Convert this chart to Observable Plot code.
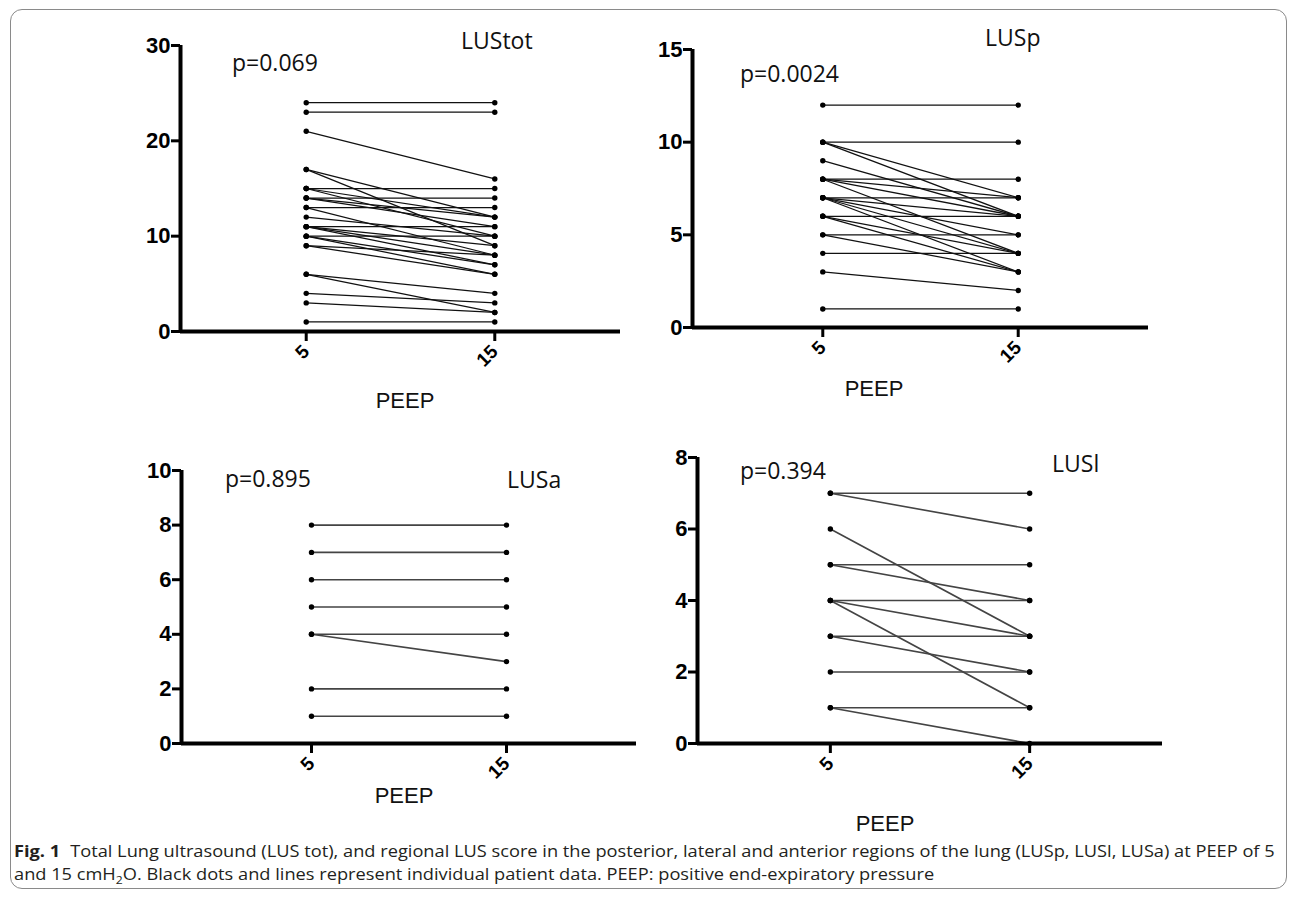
<!DOCTYPE html>
<html><head><meta charset="utf-8">
<script src="https://cdn.jsdelivr.net/npm/d3@7"></script>
<script src="https://cdn.jsdelivr.net/npm/@observablehq/plot@0.6"></script>
<style>
body{margin:0;background:#fff;width:1295px;height:898px;overflow:hidden;position:relative;font-family:"Liberation Sans",Arial,sans-serif}
#frame{position:absolute;left:10px;top:9px;width:1277px;height:880px;border:1px solid #8a8a8a;border-radius:12px;box-sizing:border-box}
svg.plot{position:absolute}
</style></head><body>
<div id="frame"></div>
<script>
// ---- data ----
const peepLevels = ["5", "15"];
const lusTotPeep5  = [24,23,21,17,17,15,15,15,14,14,14,13,13,12,11,11,11,11,10,10,10,9,9,6,6,4,3,1];
const lusTotPeep15 = [24,23,16,12,9,15,12,10,14,12,11,13,8,10,11,9,8,7,10,7,6,8,6,4,2,3,2,1];
const lusPPeep5    = [12,10,10,10,9,8,8,8,8,7,7,7,7,7,6,6,6,5,5,4,3,1];
const lusPPeep15   = [12,10,7,6,6,8,7,6,4,7,6,5,4,3,6,4,3,5,3,4,2,1];
const lusAPeep5    = [8,7,6,5,4,4,2,1];
const lusAPeep15   = [8,7,6,5,4,3,2,1];
const lusLPeep5    = [7,7,6,5,5,4,4,4,3,3,2,1,1];
const lusLPeep15   = [7,6,3,5,4,4,3,1,3,2,2,1,0];
const yTicksTot = [0,10,20,30];
const yTicksP   = [0,5,10,15];
const yTicksA   = [0,2,4,6,8,10];
const yTicksL   = [0,2,4,6,8];
const panelNames = ["LUStot","LUSp","LUSa","LUSl"];
const pValues = ["p=0.069","p=0.0024","p=0.895","p=0.394"];
const xTitle = "PEEP";

// ---- layout ----
const panels = [
  {pre: lusTotPeep5, post: lusTotPeep15, yMax: 30, ticks: yTicksTot, x0: 180, x1: 620, yTop: 45, yBot: 331, stroke: "#111", sw: 1.25,
   name: [461, 49], p: [232, 71], peep: [405, 408]},
  {pre: lusPPeep5, post: lusPPeep15, yMax: 15, ticks: yTicksP, x0: 692, x1: 1148, yTop: 49, yBot: 327, stroke: "#111", sw: 1.25,
   name: [985, 46], p: [740, 82], peep: [874, 396]},
  {pre: lusAPeep5, post: lusAPeep15, yMax: 10, ticks: yTicksA, x0: 181, x1: 636, yTop: 470, yBot: 743, stroke: "#444", sw: 1.6,
   name: [507, 488], p: [225, 487], peep: [404, 803]},
  {pre: lusLPeep5, post: lusLPeep15, yMax: 8, ticks: yTicksL, x0: 697, x1: 1162, yTop: 457, yBot: 743, stroke: "#444", sw: 1.6,
   name: [1052, 472], p: [740, 479], peep: [885, 831]}
];

const pad = 2/3;
const ML = 70, MR = 12, MT = 20, MB = 60;
panels.forEach(pn => {
  const rows = pn.pre.flatMap((v, i) => [{id: i, x: 0, v}, {id: i, x: 1, v: pn.post[i]}]);
  const chart = Plot.plot({
    width: pn.x1 - pn.x0 + ML + MR,
    height: pn.yBot - pn.yTop + MT + MB,
    marginLeft: ML, marginRight: MR, marginTop: MT, marginBottom: MB,
    x: {domain: [-pad, 1 + pad]},
    y: {domain: [0, pn.yMax]},
    style: {overflow: "visible", background: "transparent", fontFamily: "'Liberation Sans', Arial, sans-serif", color: "#000"},
    marks: [
      Plot.line(rows, {x: "x", y: "v", z: "id", stroke: pn.stroke, strokeWidth: pn.sw}),
      Plot.dot(rows, {x: "x", y: "v", r: 2.7, fill: "#000", stroke: "none"}),
      Plot.axisY({ticks: pn.ticks, tickSize: 9, tickPadding: 1, strokeWidth: 3, fontSize: 22, fontWeight: "bold", label: null, fill: "#000", stroke: "#000"}),
      Plot.axisX({ticks: [0, 1], tickFormat: i => peepLevels[i], tickRotate: -45, tickSize: 10, tickPadding: 7, strokeWidth: 3, fontSize: 19, fontWeight: "bold", label: null, fill: "#000", stroke: "#000"}),
      Plot.ruleX([-pad], {strokeWidth: 4, stroke: "#000"}),
      Plot.ruleY([0], {strokeWidth: 4, stroke: "#000"})
    ]
  });
  chart.classList.add("plot");
  chart.style.left = (pn.x0 - ML) + "px";
  chart.style.top = (pn.yTop - MT) + "px";
  document.body.appendChild(chart);
});

// ---- text overlay ----
const ov = d3.select("body").append("svg")
  .attr("width", 1295).attr("height", 898)
  .style("position", "absolute").style("left", 0).style("top", 0).style("pointer-events", "none");

panels.forEach((pn, k) => {
  ov.append("text").attr("x", pn.p[0]).attr("y", pn.p[1])
    .attr("font-family", "'Open Sans', sans-serif").attr("font-size", 23).attr("fill", "#111").text(pValues[k]);
  ov.append("text").attr("x", pn.name[0]).attr("y", pn.name[1])
    .attr("font-family", "'Open Sans', sans-serif").attr("font-size", 23).attr("fill", "#111").text(panelNames[k]);
  ov.append("text").attr("x", pn.peep[0]).attr("y", pn.peep[1]).attr("text-anchor", "middle")
    .attr("font-family", "'Liberation Sans', Arial, sans-serif").attr("font-size", 22).attr("fill", "#111").text(xTitle);
});

// caption
const cap = ov.append("g").attr("transform", "translate(14,0)");
const l1 = cap.append("text").attr("y", 857).attr("font-family", "'Open Sans', sans-serif").attr("font-size", 16.5).attr("fill", "#231f20");
l1.append("tspan").attr("font-weight", "bold").text("Fig. 1");
l1.append("tspan").attr("dx", 9).text("Total Lung ultrasound (LUS tot), and regional LUS score in the posterior, lateral and anterior regions of the lung (LUSp, LUSl, LUSa) at PEEP of 5");
const l2 = cap.append("text").attr("y", 880).attr("font-family", "'Open Sans', sans-serif").attr("font-size", 16.5).attr("fill", "#231f20");
l2.append("tspan").text("and 15 cmH");
l2.append("tspan").attr("font-size", 11).attr("dy", 4).text("2");
l2.append("tspan").attr("dy", -4).text("O. Black dots and lines represent individual patient data. PEEP: positive end-expiratory pressure");
const w1 = l1.node().getBBox().width;
const s = 1262 / w1;
cap.attr("transform", `translate(14,0) scale(${s},1)`);
</script>
</body></html>
